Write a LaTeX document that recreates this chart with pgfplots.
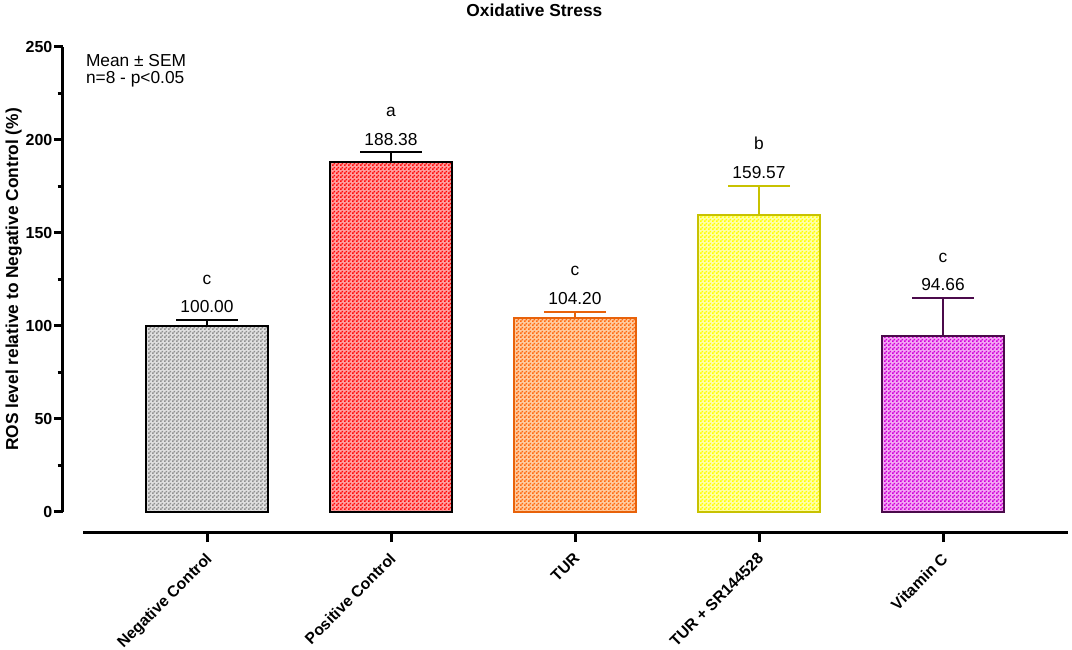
\documentclass[border=0pt]{standalone}
\usepackage{fontspec}
\setmainfont{Liberation Sans}
\usepackage{pgfplots}
\pgfplotsset{compat=1.18}
\usetikzlibrary{patterns}
\pgfdeclarepatternformonly{checker}{\pgfpointorigin}{\pgfqpoint{3pt}{3pt}}{\pgfqpoint{3pt}{3pt}}{%
  \pgfpathrectangle{\pgfpointorigin}{\pgfqpoint{1.5pt}{1.5pt}}%
  \pgfpathrectangle{\pgfqpoint{1.5pt}{1.5pt}}{\pgfqpoint{1.5pt}{1.5pt}}%
  \pgfusepath{fill}}
\definecolor{negP}{HTML}{909090}\definecolor{negB}{HTML}{E0E0E0}
\definecolor{posP}{HTML}{FF0A0A}\definecolor{posB}{HTML}{FFA0A0}
\definecolor{turE}{HTML}{E8620A}\definecolor{turP}{HTML}{FF6A10}\definecolor{turB}{HTML}{FFCCA0}
\definecolor{srE}{HTML}{C8C200}\definecolor{srP}{HTML}{FFFF00}\definecolor{srB}{HTML}{FFFFA8}
\definecolor{vcE}{HTML}{4B0A4B}\definecolor{vcP}{HTML}{D000D8}\definecolor{vcB}{HTML}{F4A8F4}
\newcommand{\fs}[1]{\fontsize{#1}{#1}\selectfont}
\pgfplotsset{
  mybar/.style n args={4}{draw=#1, line width=1.5pt, fill=#3,
     postaction={pattern=checker, pattern color=#2},
     error bars/.cd, y dir=plus, y explicit,
     error bar style={draw=#4, line width=1.5pt},
     error mark options={draw=#4, line width=1.5pt, mark size=22.9pt, rotate=90}},
}
\begin{document}
\begin{tikzpicture}
\useasboundingbox (0,0) rectangle (804pt,487.5pt);
\begin{axis}[
  at={(47.25pt,103.5pt)}, anchor=south west,
  x=138pt, y=1.395pt,
  xmin=-0.7826, xmax=4.68, ymin=0, ymax=250,
  axis x line=none, axis y line*=left,
  ybar, bar width=91.5pt, bar shift=0pt,
  clip=false,
  ytick={0,50,...,250}, minor ytick={25,75,...,225},
  tick align=outside, major tick length=6.75pt, minor tick length=4pt,
  y axis line style={line width=2.25pt},
  every major tick/.style={line width=2.25pt, black},
  every minor tick/.style={line width=1.8pt, black},
  /pgf/number format/assume math mode=true,
  yticklabel style={font=\bfseries\fs{12}, inner sep=1pt},
  ylabel={ROS level relative to Negative Control (\%)},
  ylabel style={font=\bfseries\fs{13}, at={(axis description cs:-0.049,0.5)}, anchor=center},
  title={Oxidative Stress},
  title style={font=\bfseries\fs{13}, at={(axis description cs:0.469,1)}, anchor=base, yshift=16.5pt},
  nodes near coords style={font=\fs{13}, anchor=base, inner sep=0pt},
]
\addplot[mybar={black}{negP}{negB}{black}] coordinates {(0,100.00) +- (0,3.0)};
\addplot[mybar={black}{posP}{posB}{black}] coordinates {(1,188.38) +- (0,4.9)};
\addplot[mybar={turE}{turP}{turB}{turE}] coordinates {(2,104.20) +- (0,3.4)};
\addplot[mybar={srE}{srP}{srB}{srE}] coordinates {(3,159.57) +- (0,15.8)};
\addplot[mybar={vcE}{vcP}{vcB}{vcE}] coordinates {(4,94.66) +- (0,20.3)};
% value labels
\addplot[draw=none, fill=none, nodes near coords, point meta=explicit symbolic,
  every node near coord/.append style={yshift=5.6pt}]
  coordinates {(0,103.0) [100.00] (1,193.28) [188.38] (2,107.6) [104.20] (3,175.37) [159.57] (4,114.96) [94.66]};
% letters
\addplot[draw=none, fill=none, nodes near coords, point meta=explicit symbolic,
  every node near coord/.append style={yshift=27pt}]
  coordinates {(0,103.0) [c] (1,193.28) [a] (2,107.6) [c] (3,175.37) [b] (4,114.96) [c]};
\node[anchor=north west, align=left, inner sep=0pt, font=\fs{13}] at (axis cs:-0.659,246.2)
  {Mean ± SEM\\n=8 - p<0.05};
\end{axis}
\begin{axis}[
  at={(62.25pt,87.75pt)}, anchor=south west,
  x=138pt, y=1pt,
  xmin=-0.674, xmax=4.68, ymin=0, ymax=10,
  axis x line*=bottom, axis y line=none,
  xtick={0,1,2,3,4},
  xticklabels={Negative Control, Positive Control, TUR, TUR + SR144528, Vitamin C},
  tick align=outside, major tick length=6.75pt,
  x axis line style={line width=2.25pt},
  every major tick/.style={line width=2.25pt, black},
  xticklabel style={font=\bfseries\fs{11.8}, rotate=45, anchor=north east, inner sep=0pt, xshift=-6.3pt, yshift=-3.8pt},
]
\addplot[draw=none] coordinates {(0,5)};
\end{axis}
\end{tikzpicture}
\end{document}
